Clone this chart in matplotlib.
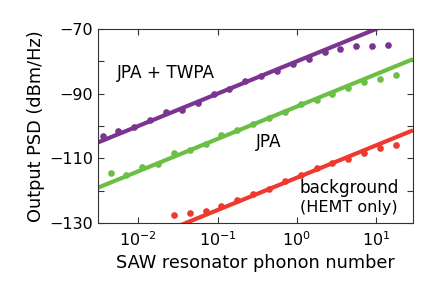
import numpy as np
import matplotlib
matplotlib.use("Agg")
import matplotlib.pyplot as plt

# phonon numbers
n_twpa = [0.00355, 0.00562, 0.00891, 0.0141, 0.0224, 0.0355, 0.0562, 0.0891, 0.141,
          0.224, 0.355, 0.562, 0.891, 1.41, 2.24, 3.55, 5.62, 8.91, 14.1]
psd_twpa = [-103.0, -101.5, -100.3, -98.2, -95.6, -95.1, -92.8, -90.2, -88.5, -86.1,
            -84.4, -83.1, -80.9, -79.2, -77.2, -76.1, -75.4, -75.2, -75.0]

n_jpa = [0.00447, 0.00708, 0.0112, 0.0178, 0.0282, 0.0447, 0.0708, 0.112, 0.178,
         0.282, 0.447, 0.708, 1.12, 1.78, 2.82, 4.47, 7.08, 11.2, 17.8]
psd_jpa = [-114.4, -115.2, -112.6, -111.7, -108.4, -107.5, -105.5, -102.8, -101.2,
           -99.3, -97.6, -95.6, -93.3, -91.9, -90.0, -88.2, -86.5, -85.6, -84.3]

n_bg = [0.0282, 0.0447, 0.0708, 0.112, 0.178, 0.282, 0.447, 0.708, 1.12, 1.78,
        2.82, 4.47, 7.08, 11.2, 17.8]
psd_bg = [-127.4, -127.0, -126.4, -124.7, -122.9, -121.1, -119.6, -117.0, -115.3,
          -113.1, -111.6, -110.2, -108.3, -106.9, -106.0]

# linear-response fit offsets (dBm/Hz at n = 1), slope 10 dB/decade
fit_twpa = -80.0
fit_jpa = -94.0
fit_bg = -116.0

xticks = [1e-2, 1e-1, 1e0, 1e1]
yticks = [-70, -90, -110, -130]

c_twpa = "#7B3590"
c_jpa = "#6CBF45"
c_bg = "#EE3A2E"

fig = plt.figure(figsize=(4.36, 2.89), dpi=100)
ax = fig.add_axes([0.2248, 0.2284, 0.7225, 0.6713])

xlim = (0.0031, 29.3)
nfit = np.logspace(np.log10(xlim[0]), np.log10(xlim[1]), 50)
for n, p, off, c in [(n_twpa, psd_twpa, fit_twpa, c_twpa),
                     (n_jpa, psd_jpa, fit_jpa, c_jpa),
                     (n_bg, psd_bg, fit_bg, c_bg)]:
    ax.plot(nfit, off + 10 * np.log10(nfit), color=c, lw=3.0, solid_capstyle="butt")
    ax.plot(n, p, "o", color=c, ms=4.8, mec="none")

ax.set_xscale("log")
ax.set_xlim(*xlim)
ax.set_ylim(-130, -70)
ax.set_xticks(xticks)
ax.set_yticks(yticks)
ax.set_yticks([-80, -100, -120], minor=True)
ax.xaxis.set_minor_locator(matplotlib.ticker.NullLocator())
ax.tick_params(which="both", direction="in", top=True, right=True, labelsize=11.5,
               length=4, width=0.8, color="#333333")
ax.tick_params(axis="x", pad=5)
for s in ax.spines.values():
    s.set_linewidth(0.8)
    s.set_color("#333333")

ax.set_xlabel("SAW resonator phonon number", fontsize=12.8, labelpad=4)
ax.set_ylabel("Output PSD (dBm/Hz)", fontsize=12.8, labelpad=3)

ax.text(0.060, 0.773, "JPA + TWPA", transform=ax.transAxes, fontsize=12.2,
        ha="left", va="center")
ax.text(0.543, 0.4175, "JPA", transform=ax.transAxes, fontsize=12.2,
        ha="center", va="center")
ax.text(0.797, 0.18, "background", transform=ax.transAxes, fontsize=12.2,
        ha="center", va="center")
ax.text(0.797, 0.082, "(HEMT only)", transform=ax.transAxes, fontsize=11.5,
        ha="center", va="center")

fig.savefig("out.png", dpi=100)
